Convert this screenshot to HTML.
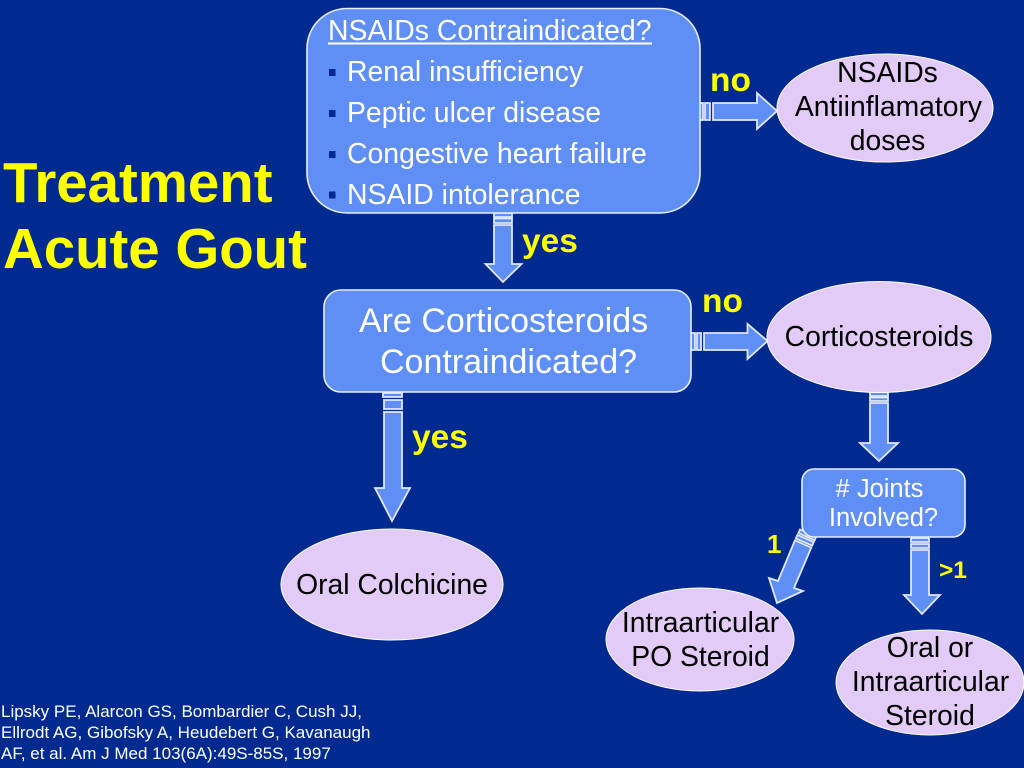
<!DOCTYPE html>
<html><head><meta charset="utf-8"><title>Treatment Acute Gout</title>
<style>
html,body{margin:0;padding:0;background:#002a8f;width:1024px;height:768px;overflow:hidden}
svg{display:block}
text{font-family:"Liberation Sans",Arial,sans-serif}
.w{fill:#fff;font-size:28.4px}
.k{fill:#000;font-size:28.3px;text-anchor:middle}
.y{fill:#ffff00;font-weight:bold;font-size:33.5px}
.t{fill:#ffff00;font-weight:bold;font-size:56.4px}
.a{fill:#5f8ef5;stroke:#dfe8ff;stroke-width:1.8}
.b{fill:#5f8ef5;stroke:#e8eeff;stroke-width:1.6}
.e{fill:#e2cbf6;stroke:#fff;stroke-width:1}
.c{fill:#fff;font-size:17px}
.q{fill:#fff;font-size:34px}
.j{fill:#fff;font-size:25.5px;text-anchor:middle}
.s{fill:#002a8f}
</style></head>
<body>
<svg width="1024" height="768" viewBox="0 0 1024 768" xmlns="http://www.w3.org/2000/svg">
<rect width="1024" height="768" fill="#002a8f"/>

<!-- Arrows -->
<path class="a" d="M699 103H703V120H699ZM705 103H710V120H705ZM713 103H757V93L777 111L757 129V120H713Z"/>
<path class="a" d="M494 213H512V217H494ZM494 218.500H512V223H494ZM494 225H512V264H521.500L503 282L485.500 264H494Z"/>
<path class="a" d="M691 333H695V350H691ZM697 333H701V350H697ZM704 333H747.500V324L767.500 341L747.500 359V350H704Z"/>
<path class="a" d="M383 393H402V397H383ZM384 400H402V409H384ZM384 412H402V488H410L392 521L375 488H384Z"/>
<path class="a" d="M870 392H888V396H870ZM870 397.500H888V401H870ZM870 403H888V443H898L879 461L860 443H870Z"/>
<path class="a" d="M911 538H929V542H911ZM911 544H929V548H911ZM911 550H929V595H940L922 614L904 595H911Z"/>
<path class="a" d="M800 529.400L816.200 536.600L814.600 540.300L798.400 533ZM797.400 534.900L813.800 542.100L812.200 545.700L795.800 538.500ZM794.900 540.400L811.300 547.600L794 588L803 591L777 603L769 578L778 581Z"/>

<!-- Boxes -->
<rect class="b" x="307" y="8.500" width="393" height="204.500" rx="40" ry="40"/>
<rect class="b" x="324" y="290" width="367" height="102" rx="17" ry="17"/>
<rect class="b" x="802" y="469" width="163" height="68" rx="12" ry="12"/>

<!-- Ellipses -->
<ellipse class="e" cx="885" cy="108" rx="108" ry="54"/>
<ellipse class="e" cx="879" cy="337" rx="112" ry="55.500"/>
<ellipse class="e" cx="392" cy="584.500" rx="111" ry="55.500"/>
<ellipse class="e" cx="700" cy="639.500" rx="94" ry="51.500"/>
<ellipse class="e" cx="930" cy="682.500" rx="94" ry="52.500"/>

<!-- Title -->
<text class="t" x="3" y="202">Treatment</text>
<text class="t" x="3" y="268">Acute Gout</text>

<!-- First box text -->
<text class="w" x="328" y="40">NSAIDs Contraindicated?</text>
<rect x="328" y="42.500" width="324" height="2" fill="#fff"/>
<rect class="s" x="329" y="69" width="6.500" height="7"/>
<text class="w" x="347" y="81">Renal insufficiency</text>
<rect class="s" x="329" y="110" width="6.500" height="7"/>
<text class="w" x="347" y="122">Peptic ulcer disease</text>
<rect class="s" x="329" y="151" width="6.500" height="7"/>
<text class="w" x="347" y="163">Congestive heart failure</text>
<rect class="s" x="329" y="191.500" width="6.500" height="7"/>
<text class="w" x="347" y="204">NSAID intolerance</text>

<!-- Second box text -->
<text class="q" x="359" y="332">Are Corticosteroids</text>
<text class="q" x="380" y="373">Contraindicated?</text>

<!-- Third box text -->
<text class="j" x="879.500" y="497">&#35; Joints</text>
<text class="j" x="883.500" y="526">Involved?</text>

<!-- Ellipse text -->
<text class="k" x="887.500" y="82">NSAIDs</text>
<text class="k" x="888.500" y="116">Antiinflamatory</text>
<text class="k" x="887.500" y="150">doses</text>
<text class="k" x="879" y="346">Corticosteroids</text>
<text class="k" x="392" y="594">Oral Colchicine</text>
<text class="k" x="700.500" y="632">Intraarticular</text>
<text class="k" x="700.500" y="666">PO Steroid</text>
<text class="k" x="930" y="657">Oral or</text>
<text class="k" x="930.500" y="691">Intraarticular</text>
<text class="k" x="930" y="725">Steroid</text>

<!-- Connector labels -->
<text class="y" x="710" y="91">no</text>
<text class="y" x="522" y="252">yes</text>
<text class="y" x="702" y="312">no</text>
<text class="y" x="412" y="448">yes</text>
<text x="767" y="553" style="fill:#ffff00;font-weight:bold;font-size:26px">1</text>
<text x="939" y="578" style="fill:#ffff00;font-weight:bold;font-size:24.500px">&gt;1</text>

<!-- Citation -->
<text class="c" x="1" y="717">Lipsky PE, Alarcon GS, Bombardier C, Cush JJ,</text>
<text class="c" x="1" y="738">Ellrodt AG, Gibofsky A, Heudebert G, Kavanaugh</text>
<text class="c" x="1" y="759">AF, et al. Am J Med 103(6A):49S-85S, 1997</text>
</svg>
</body></html>
